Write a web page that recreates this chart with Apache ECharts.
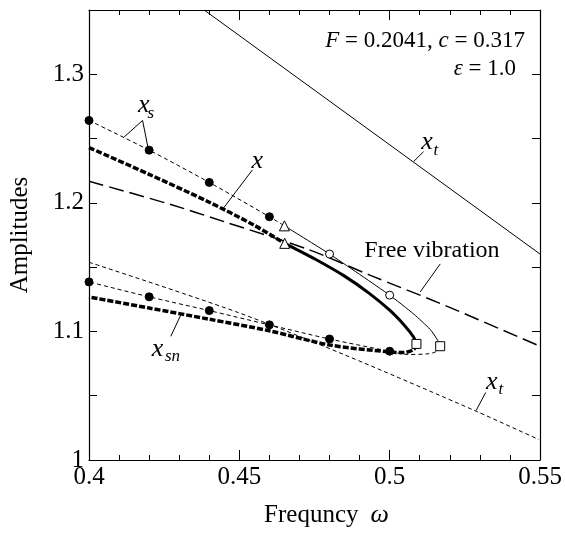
<!DOCTYPE html>
<html><head><meta charset="utf-8">
<script src="https://cdn.jsdelivr.net/npm/echarts@6/dist/echarts.min.js"></script>
<style>html,body{margin:0;padding:0;background:#fff}#c{width:565px;height:533px}</style>
</head><body><div id="c"></div>
<script>
// ---- data (omega, amplitude) ----
const xtUpper  = [[0.4383,1.35],[0.55,1.1602]];
const xtLower  = [[0.4,1.1538],[0.4488,1.1154],[0.4847,1.0821],[0.529,1.0377],[0.5495,1.0160]];
const xsUpper  = [[0.4,1.2641],[0.42,1.2410],[0.44,1.2159],[0.46,1.1892],[0.465,1.1821]];
const xsMiddle = [[0.465,1.1821],[0.48,1.1602],[0.5,1.1282],[0.508,1.1135],[0.5135,1.1015],[0.5160,1.0930],[0.5168,1.0885]];
const xsLower  = [[0.5168,1.0885],[0.5157,1.0846],[0.5124,1.0825],[0.5058,1.0821],[0.5,1.0846],[0.48,1.0941],[0.46,1.1051],[0.44,1.1162],[0.42,1.1269],[0.4,1.1385]];
const xUpper   = [[0.4,1.243],[0.42,1.2222],[0.44,1.2005],[0.455,1.1825],[0.4651,1.1685]];
const xMiddle  = [[0.4651,1.1685],[0.475,1.1565],[0.485,1.143],[0.493,1.130],[0.5,1.1165],[0.505,1.1045],[0.508,1.0955],[0.5089,1.0903]];
const xLower   = [[0.5089,1.0903],[0.508,1.0859],[0.5045,1.0836],[0.5,1.084],[0.48,1.0895],[0.46,1.1005],[0.44,1.1095],[0.42,1.1182],[0.4,1.1268]];
const freeVib  = [[0.4,1.2168],[0.4272,1.1987],[0.4449,1.1854],[0.4731,1.1636],[0.4936,1.1436],[0.5168,1.1218],[0.55,1.0885]];
const filledDots  = [[0.4,1.2641],[0.42,1.2410],[0.44,1.2159],[0.46,1.1892],[0.4,1.1385],[0.42,1.1269],[0.44,1.1162],[0.46,1.1051],[0.48,1.0941],[0.5,1.0846]];
const openCircles = [[0.48,1.1602],[0.5,1.1282]];
const triangles   = [[0.465,1.1821],[0.4651,1.1685]];
const squares     = [[0.5089,1.0903],[0.5168,1.0885]];
// axis ranges / ticks
const xRange = [0.4, 0.55], xStep = 0.05;
const yRange = [1, 1.35], yStep = 0.05;
// annotation texts (data coordinates)
const labelItems = [
  {at:[0.41825,1.2762], text:'x',  kind:'main'},
  {at:[0.42058,1.2692], text:'s',  kind:'sub'},
  {at:[0.45598,1.2321], text:'x',  kind:'main'},
  {at:[0.5124,1.2475],  text:'x',  kind:'main'},
  {at:[0.51539,1.2410], text:'t',  kind:'sub'},
  {at:[0.51406,1.1631], text:'Free vibration', kind:'plain'},
  {at:[0.4228,1.0859],  text:'x',  kind:'main'},
  {at:[0.42778,1.0802], text:'sn', kind:'sub'},
  {at:[0.53397,1.0602], text:'x',  kind:'main'},
  {at:[0.53696,1.0546], text:'t',  kind:'sub'}
];
const leaders = [
  [[0.41171,1.2513],[0.41782,1.2641]],
  [[0.41782,1.2641],[0.41968,1.2423]],
  [[0.45433,1.2256],[0.44437,1.1948]],
  [[0.51127,1.2398],[0.50796,1.2321]],
  [[0.51682,1.1525],[0.51018,1.1308]],
  [[0.42721,1.0962],[0.43053,1.1128]],
  [[0.53193,1.0525],[0.52876,1.0385]]
];

const FONT = "'Liberation Serif', 'Times New Roman', Times, serif";
function ln(name, data, style, smooth) {
  return {name, type:'line', data, symbol:'none', showSymbol:false, smooth: smooth || 0,
    lineStyle: Object.assign({color:'#000', width:1, type:'solid'}, style), z:2, animation:false, silent:true};
}
function mk(name, data, symbol, size, fill) {
  return {name, type:'scatter', data, symbol, symbolSize:size,
    itemStyle:{color:fill, borderColor:'#000', borderWidth:1, opacity:1}, z:5, animation:false, silent:true};
}
const labelStyles = {
  main:  {fontFamily:FONT, fontStyle:'italic', fontSize:26, color:'#000'},
  sub:   {fontFamily:FONT, fontStyle:'italic', fontSize:17, color:'#000'},
  plain: {fontFamily:FONT, fontSize:24, color:'#000'}
};

const series = [
  ln('xt upper', xtUpper, {width:1}),
  ln('xt lower', xtLower, {width:1, type:[4,3]}, 0.3),
  ln('xs upper', xsUpper, {width:1, type:[4,3]}, 0.3),
  ln('xs middle', xsMiddle, {width:1}, 0.2),
  ln('xs lower', xsLower, {width:1, type:[4,3]}, 0.3),
  ln('x upper', xUpper, {width:3.5, type:[6,2]}, 0.3),
  ln('x middle', xMiddle, {width:3}, 0.2),
  ln('x lower', xLower, {width:3.5, type:[6,2]}, 0.3),
  ln('free vibration', freeVib, {width:1.5, type:[15,6]}, 0.3),
  mk('filled', filledDots, 'circle', 8, '#000'),
  mk('open circles', openCircles, 'circle', 8, '#fff'),
  mk('triangles', triangles, 'triangle', 10, '#fff'),
  mk('squares', squares, 'rect', 9, '#fff'),
  {name:'labels', type:'scatter', symbolSize:0, z:6, animation:false, silent:true,
   itemStyle:{opacity:1},
   data: labelItems.map(d => ({value:d.at, label:Object.assign({show:true, position:'inside', align:'center', verticalAlign:'middle', opacity:1, textBorderWidth:0, formatter:d.text}, labelStyles[d.kind])}))}
];
leaders.forEach((seg,i) => series.push(ln('leader'+i, seg, {width:1})));

const tickFont = {fontFamily:FONT, fontSize:25, color:'#000'};
const option = {
  backgroundColor:'#fff',
  animation:false,
  grid:{left:88, top:10, width:452, height:455, containLabel:false},
  xAxis:[
    {type:'value', min:xRange[0], max:xRange[1], interval:xStep, position:'bottom',
     axisLine:{show:true, onZero:false, lineStyle:{color:'#000', width:1.2}},
     axisTick:{show:true, inside:true, length:10, lineStyle:{color:'#000'}},
     minorTick:{show:true, splitNumber:5, length:5, lineStyle:{color:'#000'}},
     splitLine:{show:false},
     axisLabel:Object.assign({margin:5}, tickFont),
     name:'{n|Frequncy}{w|ω}', nameLocation:'middle', nameGap:42,
     nameTextStyle:{padding:[0,0,0,24], rich:{n:{fontFamily:FONT, fontSize:25, color:'#000'}, w:{fontFamily:FONT, fontSize:26, fontStyle:'italic', color:'#000', padding:[0,0,0,12]}}}},
    {type:'value', min:xRange[0], max:xRange[1], interval:xStep, position:'top',
     axisLine:{show:true, onZero:false, lineStyle:{color:'#000', width:1.2}},
     axisTick:{show:true, inside:true, length:10, lineStyle:{color:'#000'}},
     minorTick:{show:true, splitNumber:5, length:5, lineStyle:{color:'#000'}},
     splitLine:{show:false}, axisLabel:{show:false}}
  ],
  yAxis:[
    {type:'value', min:yRange[0], max:yRange[1], interval:yStep, position:'left',
     axisLine:{show:true, onZero:false, lineStyle:{color:'#000', width:1.2}},
     axisTick:{show:true, inside:true, length:8, lineStyle:{color:'#000'}},
     splitLine:{show:false},
     axisLabel:Object.assign({margin:5, formatter:v => (Math.abs(Math.round(v*10) - v*10) < 1e-6 ? String(+v.toFixed(1)) : '')}, tickFont),
     name:'Amplitudes', nameLocation:'middle', nameGap:56,
     nameTextStyle:{fontFamily:FONT, fontSize:25, color:'#000'}},
    {type:'value', min:yRange[0], max:yRange[1], interval:yStep, position:'right',
     axisLine:{show:true, onZero:false, lineStyle:{color:'#000', width:1.2}},
     axisTick:{show:true, inside:true, length:8, lineStyle:{color:'#000'}},
     splitLine:{show:false}, axisLabel:{show:false}}
  ],
  graphic:[
    {type:'text', right:40, top:29, z:10, style:{text:'{i|F} = 0.2041, {i|c} = 0.317', fontFamily:FONT, fontSize:23, fill:'#000',
      rich:{i:{fontFamily:FONT, fontStyle:'italic', fontSize:23}}}},
    {type:'text', right:49, top:57, z:10, style:{text:'{i|ε} = 1.0', fontFamily:FONT, fontSize:23, fill:'#000',
      rich:{i:{fontFamily:FONT, fontStyle:'italic', fontSize:23}}}}
  ],
  series
};
const chart = echarts.init(document.getElementById('c'));
chart.setOption(option);
</script></body></html>
